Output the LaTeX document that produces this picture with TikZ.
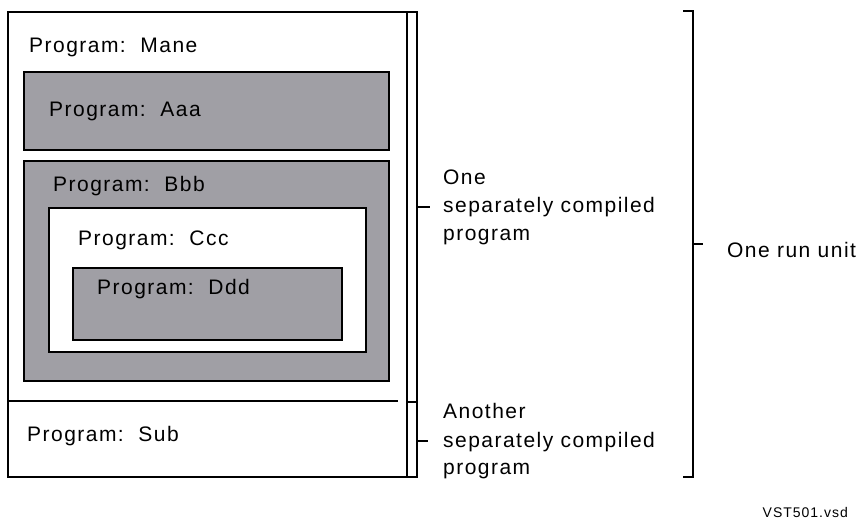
\documentclass[tikz,border=0pt]{standalone}
\usepackage{fontspec}
\setmainfont{Liberation Sans}[LetterSpace=7]
\definecolor{boxgray}{RGB}{160,159,165}
\begin{document}
\begin{tikzpicture}[x=1pt,y=-1pt,
  frame/.style={draw=black,line width=1.3pt},
  graybox/.style={frame,fill=boxgray},
  whitebox/.style={frame,fill=white},
  lbl/.style={anchor=base west,inner sep=0pt,font=\fontsize{21}{25}\selectfont},
  side/.style={anchor=base west,inner sep=0pt,align=left,font=\fontsize{21}{28}\selectfont},
  brk/.style={draw=black,line width=1.3pt}]
\useasboundingbox (0,0) rectangle (860,521);

% outer frame: the whole first compiled unit plus Sub
\draw[frame] (8,12) rectangle (407,477);
\draw[frame] (8,401) -- (398,401);

% nested programs
\draw[graybox] (24,72) rectangle (389,150);
\draw[graybox] (24,161) rectangle (389,381);
\draw[whitebox] (49,208) rectangle (366,352);
\draw[graybox] (73,268) rectangle (342,340);

\node[lbl] (mane) at (29,53) {Program:\ \ Mane};
\node[lbl] (aaa) at (49,117) {Program:\ \ Aaa};
\node[lbl] (bbb) at (53,192) {Program:\ \ Bbb};
\node[lbl] (ccc) at (78,246) {Program:\ \ Ccc};
\node[lbl] (ddd) at (97,295) {Program:\ \ Ddd};
\node[lbl] (sub) at (27,442) {Program:\ \ Sub};

% brackets for the two separately compiled programs
\coordinate (b1t) at (407,12);
\coordinate (b1b) at (407,402);
\coordinate (b2b) at (407,477);
\draw[brk] (b1t) -- (417,12) -- (417,477) -- (b2b);
\draw[brk,line width=2.2pt] (b1b) -- (417,402);
\coordinate (t1) at (430,207);
\coordinate (t2) at (428,441);
\draw[brk] (417,207) -- (t1);
\draw[brk] (417,441) -- (t2);

% multi-line labels are placed by the baseline of their last line
\node[side] (one) at (443,241) {One\\separately compiled\\program};
\node[side] (another) at (443,475) {Another\\separately compiled\\program};

% bracket for the run unit
\draw[brk] (683,11) -- (693,11) -- (693,477) -- (683,477);
\coordinate (t3) at (703,244);
\draw[brk] (693,244) -- (t3);
\node[lbl] (run) at (727,258) {One run unit};

\node[anchor=base east,inner sep=0pt,font=\fontsize{14}{16}\selectfont] (file) at (848,517) {VST501.vsd};
\end{tikzpicture}
\end{document}
